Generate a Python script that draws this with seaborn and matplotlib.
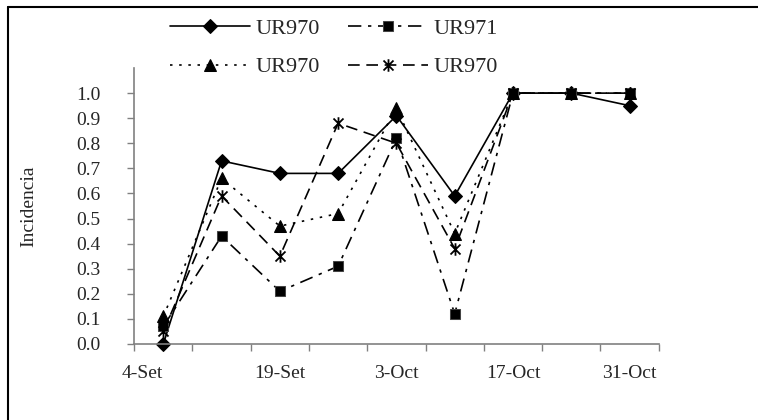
import numpy as np
import pandas as pd
import seaborn as sns
import matplotlib.pyplot as plt
from matplotlib.path import Path
from matplotlib.lines import Line2D

# data
fechas = [ '4-Set', '11-Set', '19-Set', '26-Set', '3-Oct',
           '10-Oct', '17-Oct', '24-Oct', '31-Oct' ]
serie_a = [ 0.00, 0.73, 0.68, 0.68, 0.91, 0.59, 1.00, 1.00, 0.95 ]
serie_b = [ 0.07, 0.43, 0.21, 0.31, 0.82, 0.12, 1.00, 1.00, 1.00 ]
serie_c = [ 0.11, 0.66, 0.47, 0.52, 0.94, 0.44, 1.00, 1.00, 1.00 ]
serie_d = [ 0.05, 0.59, 0.35, 0.88, 0.80, 0.38, 1.00, 1.00, 1.00 ]
nombres = [ 'UR970', 'UR971', 'UR970', 'UR970' ]
yticks = [ 0.0, 0.1, 0.2, 0.3, 0.4, 0.5, 0.6, 0.7, 0.8, 0.9, 1.0 ]

sns.set_theme( style = 'white' )
plt.rcParams[ 'font.family' ] = [ 'Liberation Serif', 'DejaVu Serif' ]

# asterisk marker: vertical bar plus an X
star = Path(
  [ ( 0, -1 ), ( 0, 1 ), ( -0.8, -0.8 ), ( 0.8, 0.8 ),
    ( -0.8, 0.8 ), ( 0.8, -0.8 ) ],
  [ Path.MOVETO, Path.LINETO ] * 3 )

estilos = [
  dict( marker = 'D', markersize = 7.5, linestyle = '-' ),
  dict( marker = 's', markersize = 7.5, linestyle = ( 0, ( 8, 4, 2, 4 ) ),
        markeredgecolor = '#444444' ),
  dict( marker = '^', markersize = 8, linestyle = ( 0, ( 1.5, 4 ) ) ),
  dict( marker = star, markersize = 9, linestyle = ( 0, ( 7, 4 ) ),
        markeredgewidth = 1.3 ),
]

fig = plt.figure( figsize = ( 7.58, 4.2 ), dpi = 100 )
ax = fig.add_axes( [ 0.177, 0.181, 0.692, 0.657 ] )

x = np.arange( len( fechas ) )
series = [ serie_a, serie_b, serie_c, serie_d ]
for vals, nombre, est in zip( series, nombres, estilos ):
  sns.lineplot( x = x, y = vals, ax = ax, color = 'black', linewidth = 1.2,
                label = nombre, clip_on = False,
                markeredgecolor = est.pop( 'markeredgecolor', 'black' ),
                **est )

ax.set_xlim( -0.5, len( fechas ) - 0.5 )
ax.set_ylim( 0, 1.1 )

# tick marks between categories, labels every other category
ax.set_xticks( np.arange( -0.5, len( fechas ), 1.0 ) )
ax.set_xticklabels( [] )
ax.set_xticks( x[ : : 2 ], minor = True )
ax.set_xticklabels( fechas[ : : 2 ], minor = True )
ax.tick_params( axis = 'x', which = 'major', direction = 'out', length = 5,
                width = 1, color = '#808080', bottom = True )
ax.tick_params( axis = 'x', which = 'minor', length = 0, pad = 15,
                labelsize = 14, bottom = True )
for lab in ax.get_xticklabels( minor = True )[ : 1 ]:
  lab.set_ha( 'right' )

ax.set_yticks( yticks )
ax.set_yticklabels( [ f'{v:.1f}' for v in yticks ] )
ax.tick_params( axis = 'y', direction = 'out', length = 5, width = 1,
                color = '#808080', pad = 19, labelsize = 14, left = True )

for s in [ 'top', 'right' ]:
  ax.spines[ s ].set_visible( False )
for s in [ 'left', 'bottom' ]:
  ax.spines[ s ].set_color( '#808080' )
  ax.spines[ s ].set_linewidth( 1.2 )

ax.set_xlabel( '' )
ax.set_ylabel( 'Incidencia', fontsize = 14 )
ax.yaxis.set_label_coords( -0.185, 0.5 )

# legend laid out row by row like the original
h, l = ax.get_legend_handles_labels()
ax.get_legend().remove()
orden = [ 0, 2, 1, 3 ]
fig.legend( [ h[ i ] for i in orden ], [ l[ i ] for i in orden ],
            loc = 'center', bbox_to_anchor = ( 334 / 758, 1 - 48 / 420 ),
            ncol = 2, frameon = False, fontsize = 16, handlelength = 3.6,
            handletextpad = 0.25, columnspacing = 1.3, labelspacing = 0.8 )

# outer frame (only top and left edges fall inside the image)
fig.add_artist( Line2D( [ 8 / 758, 1 ], [ 1 - 7 / 420, 1 - 7 / 420 ],
                        transform = fig.transFigure, color = 'black', lw = 1.5 ) )
fig.add_artist( Line2D( [ 8 / 758, 8 / 758 ], [ 0, 1 - 7 / 420 ],
                        transform = fig.transFigure, color = 'black', lw = 1.5 ) )

fig.savefig( 'out.png', dpi = 100 )
